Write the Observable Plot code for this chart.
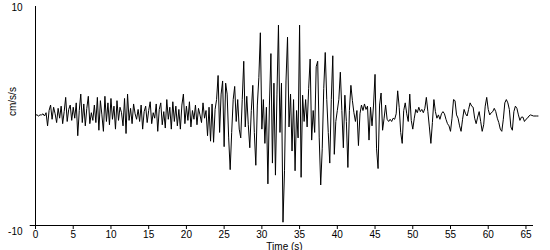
<!DOCTYPE html>
<html><head><meta charset="utf-8">
<script src="https://cdn.jsdelivr.net/npm/d3@7"></script>
<script src="https://cdn.jsdelivr.net/npm/@observablehq/plot@0.6"></script>
<style>body{margin:0;background:#fff} svg{display:block}</style>
</head><body><div id="chart"></div>
<script>
const sampleStep = 0.2; // seconds between samples
const accel = [
  0.1, 0.1, 0.0, 0.1, 0.1,
  0.2, 0.0, 0.3, -0.9, 0.5,
  1.0, -0.3, 0.8, 0.2, -0.6,
  0.7, -0.2, 0.9, -0.7, 0.4,
  1.7, -0.5, 0.6, 1.0, -0.4,
  0.8, -0.2, 1.2, -1.8, 0.5,
  2.0, -0.6, 1.1, -0.9, 0.7,
  1.8, -0.7, 0.3, -0.4, 1.0,
  -0.6, 1.7, -1.3, 1.4, 0.1,
  -1.4, 1.8, -0.5, 1.2, -0.8,
  1.6, -0.3, 0.9, -1.2, 1.4,
  -0.4, 0.8, 0.3, -0.9, 1.6,
  -1.6, 2.0, -0.4, 0.7, -0.7,
  1.1, 0.2, -0.3, 0.6, -0.5,
  1.0, -1.2, 0.4, 0.9, -0.6,
  0.5, 1.3, -0.7, 0.3, -0.2,
  1.1, -1.4, 0.6, 1.2, -0.8,
  0.4, -1.1, 1.5, -0.3, 0.8,
  -1.2, 1.3, -0.5, 0.9, -0.9,
  0.6, -1.2, 1.0, 2.0, -0.7,
  0.9, -0.4, 1.3, -1.0, 0.5,
  -0.3, 1.0, -0.8, 0.7, 0.1,
  -0.6, 1.2, -0.2, 0.5, -1.8,
  0.8, -2.3, 1.1, -2.4, 0.6,
  1.5, 3.7, -1.5, 2.0, 3.2,
  -2.8, 3.0, 2.0, -2.0, -4.9,
  -1.5, 1.5, 2.7, -0.5, 1.5,
  -1.2, -2.0, 1.5, 5.0, -1.0,
  1.8, -0.8, -2.9, 0.5, 2.8,
  -1.5, -4.5, 1.0, 3.5, 7.6,
  -1.2, 1.5, -2.5, 0.8, -6.2,
  1.0, 5.7, -4.3, 3.0, -5.4,
  2.0, 8.3, -1.5, 3.0, -9.7,
  -5.0, 3.2, 7.2, -1.0, 2.0,
  -3.2, 1.5, -5.0, 0.5, -2.0,
  8.3, -5.6, 1.9, -0.5, 1.5,
  -1.0, 2.5, 5.2, -2.2, 0.5,
  -1.5, 4.5, 5.0, -2.0, -6.3,
  -3.0, 2.5, 5.8, 1.5, -1.5,
  -4.3, 1.5, 5.5, -3.5, -0.5,
  0.5, 1.5, 4.0, 0.5, -2.9,
  1.9, -0.5, -4.7, 0.5, 2.8,
  1.4, 0.3, -0.5, 0.5, -2.7,
  0.2, 1.0, 0.5, 1.1, 0.6,
  0.9, -2.2, 0.8, -0.9, 1.0,
  3.8, -3.0, -4.8, 1.0, 2.1,
  -1.3, -0.2, 1.0, -0.3, -0.5,
  -0.3, -0.5, -0.2, -0.3, 0.2,
  2.3, 0.8, -1.5, -2.5, 0.5,
  1.2, 0.2, -0.5, 2.0, -0.4,
  -1.2, -0.2, 0.6, 0.3, 0.8,
  0.4, 0.6, 0.3, 0.7, 1.7,
  0.4, -1.0, -2.5, -0.6, 1.5,
  0.4, -0.2, 0.1, -0.3, 0.2,
  0.4, 0.2, -0.3, -0.7, -0.9,
  -1.4, -0.2, 1.5, 1.4, 0.1,
  -0.2, -0.9, -1.4, -0.3, 0.6,
  0.2, 0.0, 0.6, 1.2, 0.9,
  0.8, -0.2, -0.7, -0.1, 0.4,
  -0.5, -1.4, -0.8, 0.9, 1.7,
  0.6, 0.1, 0.3, 0.4, 0.7,
  0.4, -0.2, -0.6, -1.2, -1.4,
  -0.3, 1.2, 1.5, 1.2, 0.6,
  -1.0, -1.3, 0.4, 0.9, 0.7,
  0.1, -0.4, -0.1, -0.1, -0.5,
  -0.3, -0.2, 0.0, 0.1, 0.05,
  0.0, 0.0, 0.0, 0.0
];
const xTicks = [0, 5, 10, 15, 20, 25, 30, 35, 40, 45, 50, 55, 60, 65];
const yTopTick = [10];
const yBottomTick = [-10];
const xLabel = "Time (s)";
const yLabel = "cm/s/s";

const data = accel.map((v, i) => ({t: +(i * sampleStep).toFixed(1), v}));
const fmt = d => String(d);

const chart = Plot.plot({
  width: 550, height: 250,
  marginLeft: 35, marginRight: 17, marginTop: 6, marginBottom: 25,
  style: {fontFamily: "'Liberation Sans', Arial, sans-serif", fontSize: "10px", color: "#000", background: "#fff", overflow: "visible"},
  x: {domain: [0, 66]},
  y: {domain: [-10, 10]},
  marks: [
    Plot.ruleX([0], {y1: -10, y2: 10, stroke: "#000"}),
    Plot.ruleY([-10], {x1: -0.7, x2: 66, stroke: "#000"}),
    Plot.axisX({ticks: xTicks, tickFormat: fmt, tickSize: 4, tickPadding: 1, label: null, stroke: "#000", fill: "#000", fontSize: 10}),
    Plot.axisY({ticks: yTopTick, tickFormat: fmt, tickSize: 0, tickPadding: 13, label: null, dy: 1, fill: "#000", fontSize: 10}),
    Plot.axisY({ticks: yBottomTick, tickFormat: fmt, tickSize: 0, tickPadding: 13, label: null, dy: 6, fill: "#000", fontSize: 10}),
    Plot.line(data, {x: "t", y: "v", stroke: "#000", strokeWidth: 1}),
    Plot.text([xLabel], {frameAnchor: "bottom", dy: 24, lineAnchor: "bottom", fill: "#000", fontSize: 10}),
    Plot.text([yLabel], {frameAnchor: "left", rotate: -90, dx: -23, fill: "#000", fontSize: 10})
  ]
});
document.getElementById("chart").appendChild(chart);
</script>
</body></html>
